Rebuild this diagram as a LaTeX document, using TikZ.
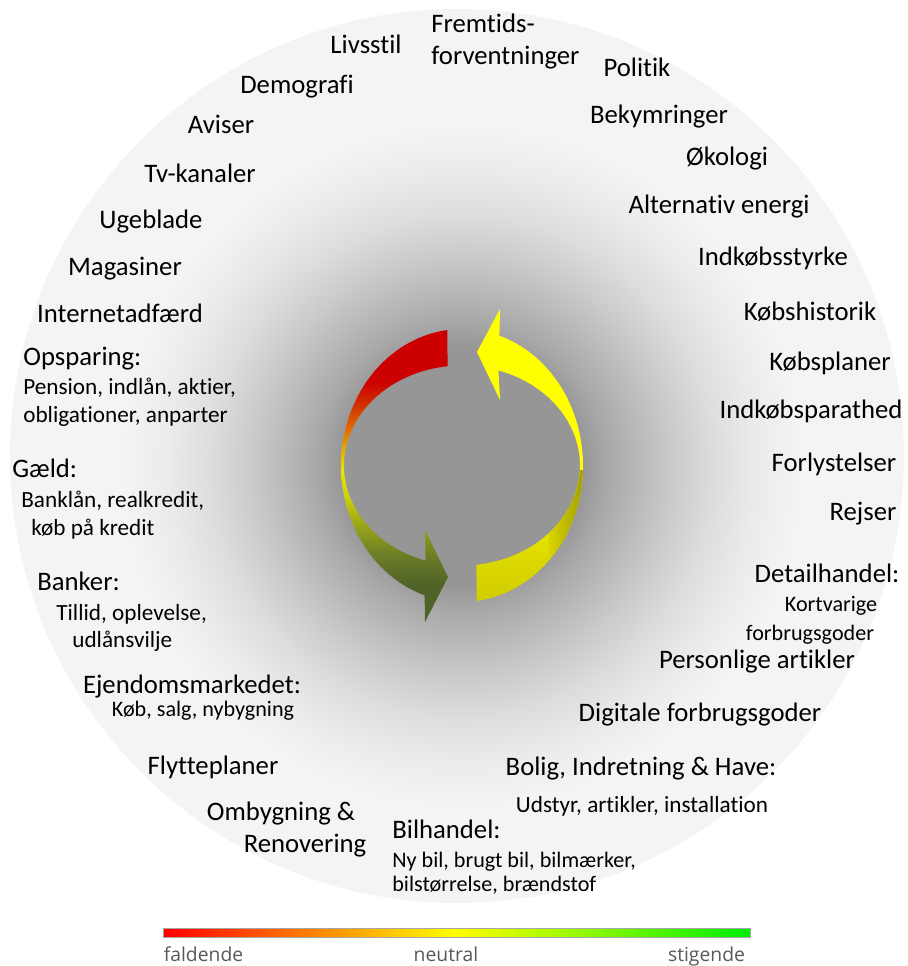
\documentclass[tikz,border=0pt]{standalone}
\usepackage{fontspec}
\setmainfont{Carlito}[Ligatures=NoCommon]
\newfontfamily\barfont{Open Sans}
\definecolor{bgc}{HTML}{F4F4F4}
\definecolor{g0}{HTML}{969696}
\definecolor{g1}{HTML}{A8A8A8}
\definecolor{g2}{HTML}{B8B8B8}
\definecolor{g3}{HTML}{CACACA}
\definecolor{g4}{HTML}{DCDCDC}
\definecolor{g5}{HTML}{EBEBEB}
\definecolor{g6}{HTML}{F4F4F4}
\definecolor{la0}{HTML}{4F6228}
\definecolor{la1}{HTML}{6B7D26}
\definecolor{la2}{HTML}{9AA51A}
\definecolor{la3}{HTML}{CFD20A}
\definecolor{la4}{HTML}{E8E800}
\definecolor{la5}{HTML}{E8B000}
\definecolor{la6}{HTML}{E07000}
\definecolor{la7}{HTML}{D02800}
\definecolor{la8}{HTML}{CC0000}
\definecolor{ra0}{HTML}{D2CC00}
\definecolor{ra1}{HTML}{DCD800}
\definecolor{ra2}{HTML}{F4F400}
\definecolor{ra3}{HTML}{FFFF00}
\definecolor{rd0}{HTML}{D8D400}
\definecolor{rd1}{HTML}{A09C00}
\definecolor{barred}{HTML}{FF0000}
\definecolor{baryel}{HTML}{FFFF00}
\definecolor{bargrn}{HTML}{00EE00}
\definecolor{bartxt}{HTML}{595959}
\pgfdeclareradialshading{glow}{\pgfpointorigin}{color(0bp)=(g0); color(8.8bp)=(g0); color(10.66bp)=(g1); color(12.87bp)=(g2); color(15.44bp)=(g3); color(18.38bp)=(g4); color(21.69bp)=(g5); color(25bp)=(g6); color(50bp)=(g6)}
\pgfdeclareverticalshading{leftarr}{100bp}{color(0bp)=(la0); color(31.3bp)=(la0); color(36.4bp)=(la1); color(41.6bp)=(la2); color(46.7bp)=(la3); color(50.9bp)=(la4); color(54.4bp)=(la5); color(57.8bp)=(la6); color(62.9bp)=(la7); color(66.3bp)=(la8); color(100bp)=(la8)}
\pgfdeclareverticalshading{rightarr}{100bp}{color(0bp)=(ra0); color(25bp)=(ra0); color(32.2bp)=(ra1); color(42.4bp)=(ra2); color(49.2bp)=(ra3); color(100bp)=(ra3)}
\pgfdeclarehorizontalshading{legendbar}{100bp}{color(0bp)=(barred); color(25bp)=(barred); color(50bp)=(baryel); color(75bp)=(bargrn); color(100bp)=(bargrn)}
\tikzset{
  lbl/.style={font=\fontsize{15.2}{18}\selectfont, anchor=base, inner sep=0pt},
  lblw/.style={lbl, anchor=base west},
  sublbl/.style={font=\fontsize{13.2}{16}\selectfont, anchor=base, inner sep=0pt},
  sublblw/.style={sublbl, anchor=base west},
  smalllbl/.style={font=\fontsize{12.6}{15}\selectfont, anchor=base, inner sep=0pt},
  barlbl/.style={font=\barfont\fontsize{11}{13}\selectfont, text=bartxt, anchor=base, inner sep=0pt}
}
\begin{document}
\begin{tikzpicture}[x=0.02cm, y=-0.02cm]
\useasboundingbox (0,0) rectangle (907,966);
% background disc and glow
\fill[bgc] (457,456) circle[radius=447];
\path[shading=glow] (462,466) circle[radius=340];
% left arrow (red -> olive)
\path[shading=leftarr]
  plot[domain=97:252, samples=60, variable=\t] ({462+121*cos(\t)}, {465.5-136.5*sin(\t)})
  -- (425,622) -- (448,577) -- (425,530)
  -- plot[domain=252:97, samples=60, variable=\t] ({462+118*cos(\t)}, {465.5-100*sin(\t)})
  -- cycle;
% right arrow (yellow)
\path[shading=rightarr]
  plot[domain=-83:72, samples=60, variable=\t] ({462+121*cos(\t)}, {465.5-136.5*sin(\t)})
  -- (500,309) -- (477,352) -- (500,400)
  -- plot[domain=72:-83, samples=60, variable=\t] ({462+118*cos(\t)}, {465.5-100*sin(\t)})
  -- cycle;
\begin{scope}
  \clip plot[domain=-83:0, samples=50, variable=\t] ({462+121*cos(\t)}, {465.5-136.5*sin(\t)})
    -- plot[domain=0:-83, samples=50, variable=\t] ({462+118*cos(\t)}, {465.5-100*sin(\t)}) -- cycle;
  \shade[left color=rd0, right color=rd1] (549,470) rectangle (585,600);
\end{scope}
% labels - top / left
\node[lblw] (fremt1) at (431,33) {Fremtids-};
\node[lblw] (fremt2) at (431,65) {forventninger};
\node[lbl] (livsstil) at (366,54) {Livsstil};
\node[lbl] (politik) at (637,77) {Politik};
\node[lbl] (demografi) at (297,94) {Demografi};
\node[lbl] (bekym) at (659,124) {Bekymringer};
\node[lbl] (aviser) at (221,134) {Aviser};
\node[lbl] (okologi) at (727,166) {Økologi};
\node[lbl] (tv) at (200,183) {Tv-kanaler};
\node[lbl] (altenergi) at (719,214) {Alternativ energi};
\node[lbl] (ugeblade) at (151,228) {Ugeblade};
\node[lbl] (indkstyrke) at (773,265) {Indkøbsstyrke};
\node[lbl] (magasiner) at (125,275) {Magasiner};
\node[lbl] (kobshist) at (810,320) {Købshistorik};
\node[lbl] (internet) at (120,322) {Internetadfærd};
\node[lblw] (opsparing) at (23,365) {Opsparing:};
\node[sublblw] (opsp1) at (23,394) {Pension, indlån, aktier,};
\node[sublblw] (opsp2) at (23,422) {obligationer, anparter};
\node[lbl] (kobsplaner) at (830,370) {Købsplaner};
\node[lbl] (indkparat) at (811,418) {Indkøbsparathed};
\node[lblw] (gaeld) at (12,477) {Gæld:};
\node[sublblw] (gaeld1) at (21,507) {Banklån, realkredit,};
\node[sublblw] (gaeld2) at (31,535) {køb på kredit};
\node[lbl] (forlyst) at (834,471) {Forlystelser};
\node[lbl] (rejser) at (863,520) {Rejser};
\node[lblw] (banker) at (37,590) {Banker:};
\node[sublblw] (banker1) at (56,620) {Tillid, oplevelse,};
\node[sublblw] (banker2) at (72,647) {udlånsvilje};
\node[lbl] (detail) at (827,582) {Detailhandel:};
\node[smalllbl] (detail1) at (831,611) {Kortvarige};
\node[smalllbl] (detail2) at (810,640) {forbrugsgoder};
\node[lbl] (personlige) at (757,668) {Personlige artikler};
\node[lbl] (ejendom) at (192,693) {Ejendomsmarkedet:};
\node[smalllbl] (ejendom1) at (203,716) {Køb, salg, nybygning};
\node[lbl] (digitale) at (700,721) {Digitale forbrugsgoder};
\node[lbl] (flytte) at (213,774) {Flytteplaner};
\node[lbl] (bolig) at (641,775) {Bolig, Indretning \& Have:};
\node[sublbl] (bolig1) at (642,812) {Udstyr, artikler, installation};
\node[lbl] (ombyg1) at (281,820) {Ombygning \&};
\node[lbl] (ombyg2) at (305,852) {Renovering};
\node[lblw] (bilhandel) at (392,838) {Bilhandel:};
\node[smalllbl, anchor=base west] (bil1) at (392,867) {Ny bil, brugt bil, bilmærker,};
\node[smalllbl, anchor=base west] (bil2) at (392,891) {bilstørrelse, brændstof};
% legend bar
\path[shading=legendbar] (163,928) rectangle (750,937);
\draw[gray!70, line width=0.4pt] (163,928) rectangle (750,937);
\node[barlbl] (faldende) at (203.5,961) {faldende};
\node[barlbl] (neutral) at (446,961) {neutral};
\node[barlbl] (stigende) at (706.5,961) {stigende};
\end{tikzpicture}
\end{document}
